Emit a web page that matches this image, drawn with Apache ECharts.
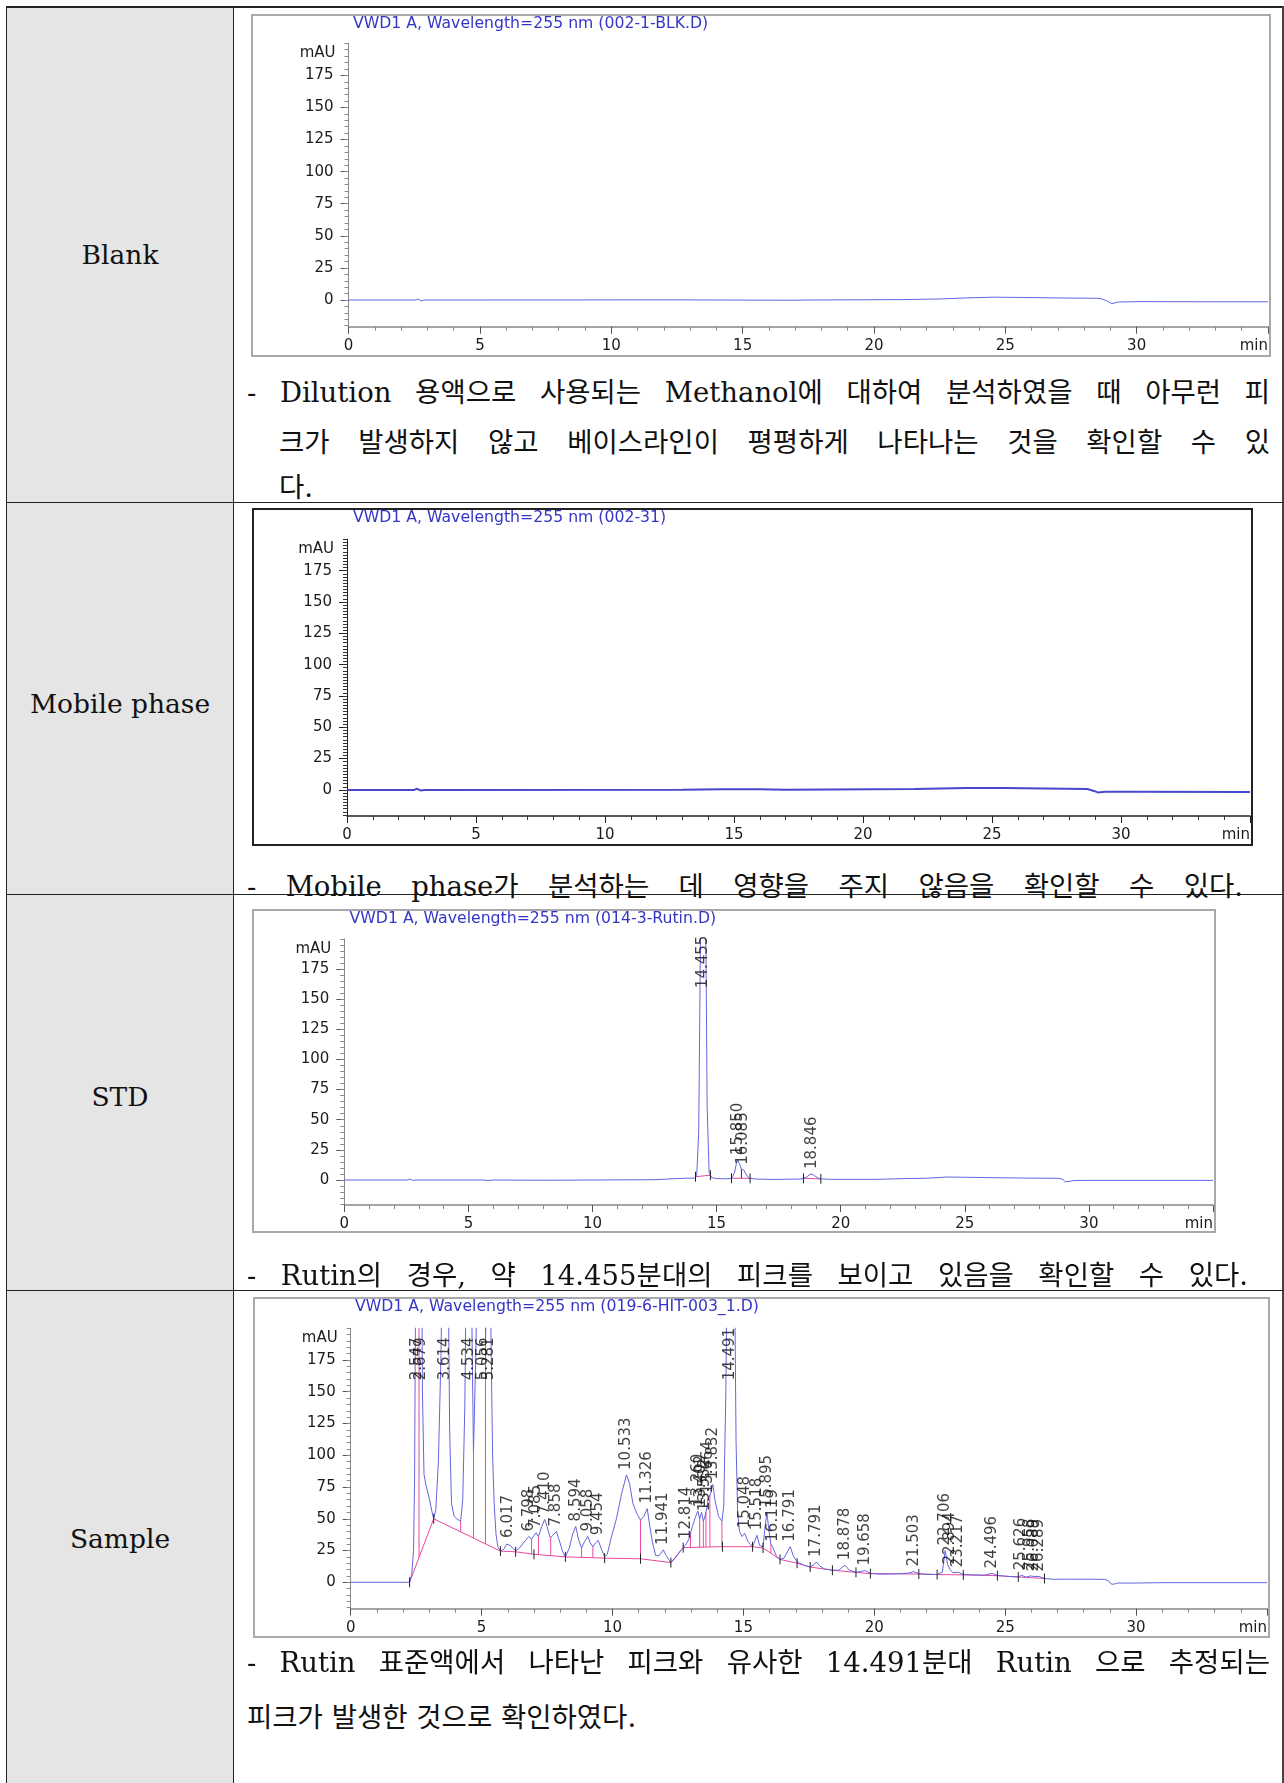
<!DOCTYPE html>
<html>
<head>
<meta charset="utf-8">
<script src="https://cdn.jsdelivr.net/npm/echarts@6/dist/echarts.min.js"></script>
<style>
  html, body { margin: 0; padding: 0; background: #fff; }
  body { width: 1284px; height: 1783px; position: relative; overflow: hidden; }
  .rule { position: absolute; background: #222; }
  .leftcol { position: absolute; left: 7px; top: 8px; width: 226px; height: 1775px; background: #e5e5e5; }
  .rowlabel { position: absolute; left: 7px; width: 226px; text-align: center; font-family: "DejaVu Serif", serif; font-size: 26.5px; line-height: 36px; color: #111; }
  .txt { position: absolute; font-family: "DejaVu Serif", "Noto Sans CJK KR", serif; font-size: 27.5px; line-height: 36px; color: #111; white-space: normal; }
  .just { text-align: justify; text-align-last: justify; }
  .chart { position: absolute; }
  .frame { position: absolute; box-sizing: border-box; pointer-events: none; }
</style>
</head>
<body>

<!-- table skeleton -->
<div class="leftcol"></div>
<div class="rule" style="left:6px;top:6px;width:1278px;height:2px;"></div>
<div class="rule" style="left:6px;top:6px;width:1px;height:1777px;"></div>
<div class="rule" style="left:233px;top:6px;width:1px;height:1777px;"></div>
<div class="rule" style="left:1282px;top:6px;width:2px;height:1777px;background:#444;"></div>
<div class="rule" style="left:6px;top:502px;width:1278px;height:1px;"></div>
<div class="rule" style="left:6px;top:894px;width:1278px;height:1px;"></div>
<div class="rule" style="left:6px;top:1290px;width:1278px;height:1px;"></div>

<div class="rowlabel" style="top:237px;">Blank</div>
<div class="rowlabel" style="top:686px;">Mobile phase</div>
<div class="rowlabel" style="top:1079px;">STD</div>
<div class="rowlabel" style="top:1521px;">Sample</div>

<!-- chromatograms -->
<div id="cBlank"  class="chart" style="left:251px;top:14px;width:1020px;height:343px;"></div>
<div class="frame" style="left:251px;top:14px;width:1020px;height:343px;border:2px solid #a9a9a9;"></div>

<div id="cMobile" class="chart" style="left:252px;top:508px;width:1001px;height:338px;"></div>
<div class="frame" style="left:252px;top:508px;width:1001px;height:338px;border:2px solid #222;"></div>

<div id="cStd"    class="chart" style="left:252px;top:909px;width:964px;height:324px;"></div>
<div class="frame" style="left:252px;top:909px;width:964px;height:324px;border:2px solid #a9a9a9;"></div>

<div id="cSample" class="chart" style="left:253px;top:1297px;width:1017px;height:341px;"></div>
<div class="frame" style="left:253px;top:1297px;width:1017px;height:341px;border:2px solid #a9a9a9;"></div>

<!-- remarks -->
<div class="txt just" style="left:247px;top:374px;width:1023px;">- Dilution 용액으로 사용되는 Methanol에 대하여 분석하였을 때 아무런 피</div>
<div class="txt just" style="left:279px;top:424px;width:991px;">크가 발생하지 않고 베이스라인이 평평하게 나타나는 것을 확인할 수 있</div>
<div class="txt" style="left:279px;top:469px;">다.</div>

<div class="txt just" style="left:247px;top:868px;width:996px;">- Mobile phase가 분석하는 데 영향을 주지 않음을 확인할 수 있다.</div>

<div class="txt just" style="left:247px;top:1257px;width:1001px;">- Rutin의 경우, 약 14.455분대의 피크를 보이고 있음을 확인할 수 있다.</div>

<div class="txt just" style="left:247px;top:1644px;width:1023px;">- Rutin 표준액에서 나타난 피크와 유사한 14.491분대 Rutin 으로 추정되는</div>
<div class="txt" style="left:247px;top:1699px;">피크가 발생한 것으로 확인하였다.</div>

<script>
// ---- chromatogram data (retention time in min, absorbance in mAU) ----
const blankTime = [0, 2.55, 2.65, 2.75, 2.9, 12.5, 17, 17.5, 21, 22.5, 23.5, 24.5, 25.5, 27, 28.6, 28.85, 29.05, 29.3, 30, 35];
const blankAbs  = [0, 0, 0.7, -0.6, 0, 0.1, -0.2, 0, 0.3, 0.8, 1.6, 2.2, 2.0, 1.6, 1.3, -0.5, -2.8, -1.6, -1.3, -1.4];

const mobileTime = [0, 2.6, 2.72, 2.85, 3.0, 13.0, 14.5, 16.0, 17.0, 22.0, 24.0, 25.5, 27.0, 28.7, 28.95, 29.1, 29.4, 30.5, 35];
const mobileAbs  = [0, 0, 0.9, -0.4, 0, 0.2, 0.6, 0.5, 0.2, 0.8, 1.5, 1.6, 1.2, 0.8, -0.8, -2.0, -1.5, -1.4, -1.6];

const stdTime = [0, 2.55, 2.65, 2.75, 2.9, 5.6, 5.8, 6.0, 8.2, 12.6, 13.2, 13.8, 14.10, 14.20, 14.28, 14.35, 14.455, 14.55, 14.62, 14.70, 14.80, 15.0, 15.4, 15.60, 15.72, 15.80, 15.850, 15.93, 16.00, 16.085, 16.18, 16.30, 16.60, 17.2, 18.40, 18.60, 18.75, 18.846, 18.95, 19.15, 19.6, 21.5, 22.6, 23.5, 24.3, 25.0, 26.0, 27.5, 28.8, 28.95, 29.05, 29.2, 29.4, 30, 35];
const stdAbs  = [0, 0, 0.8, -0.3, 0, 0, -0.4, 0, -0.2, 0.3, 1, 1.5, 1.5, 4, 40, 200, 420, 250, 60, 6, 2, 1.2, 1, 1.5, 6, 14, 16.5, 13, 9, 8.5, 5, 1.5, 0.8, 0.5, 0.8, 2, 4.5, 5, 3.5, 1, 0.6, 0.6, 1.2, 1.5, 2.5, 2.3, 2, 1.6, 1.4, 0.5, -1.5, -1.2, -0.4, -0.3, -0.3];
const stdPeaks = [14.455, 15.850, 16.085, 18.846];
const stdBaseStart = [14.15, 15.60, 18.50];
const stdBaseEnd   = [14.75, 16.35, 19.20];
const stdDrops = [16.00];

const sampleTime = [0, 2.25, 2.33, 2.40, 2.44, 2.48, 2.547, 2.61, 2.679, 2.74, 2.80, 2.88, 3.00, 3.10, 3.17, 3.25, 3.35, 3.45, 3.53, 3.614, 3.70, 3.78, 3.85, 3.95, 4.05, 4.12, 4.20, 4.28, 4.36, 4.45, 4.534, 4.62, 4.69, 4.78, 4.90, 5.056, 5.15, 5.20, 5.281, 5.36, 5.42, 5.48, 5.55, 5.62, 5.72, 5.85, 5.95, 6.017, 6.10, 6.20, 6.30, 6.45, 6.60, 6.798, 6.90, 7.085, 7.17, 7.30, 7.410, 7.50, 7.62, 7.72, 7.858, 7.95, 8.10, 8.20, 8.35, 8.48, 8.594, 8.70, 8.82, 8.93, 9.058, 9.15, 9.25, 9.35, 9.454, 9.58, 9.70, 9.80, 9.95, 10.15, 10.35, 10.533, 10.65, 10.78, 10.93, 11.07, 11.20, 11.326, 11.42, 11.52, 11.65, 11.78, 11.941, 12.05, 12.23, 12.40, 12.60, 12.814, 12.92, 13.05, 13.18, 13.260, 13.33, 13.402, 13.47, 13.532, 13.60, 13.664, 13.75, 13.832, 13.92, 14.05, 14.18, 14.25, 14.33, 14.41, 14.491, 14.58, 14.66, 14.72, 14.78, 14.85, 14.95, 15.048, 15.18, 15.35, 15.518, 15.62, 15.75, 15.82, 15.895, 15.98, 16.05, 16.119, 16.25, 16.40, 16.55, 16.68, 16.791, 16.90, 17.05, 17.30, 17.55, 17.70, 17.791, 17.90, 18.10, 18.40, 18.65, 18.878, 19.05, 19.30, 19.50, 19.658, 19.85, 20.20, 20.80, 21.30, 21.503, 21.70, 22.00, 22.40, 22.60, 22.706, 22.80, 22.894, 23.00, 23.217, 23.40, 23.80, 24.20, 24.496, 24.70, 25.10, 25.50, 25.626, 25.80, 25.958, 26.089, 26.289, 26.50, 26.80, 27.50, 28.20, 28.80, 28.95, 29.05, 29.15, 29.30, 30.00, 31.00, 35.00];
const sampleAbs  = [0, 0, 6, 25, 80, 240, 420, 230, 380, 150, 85, 76, 66, 56, 50, 57, 95, 180, 300, 520, 300, 120, 62, 52, 50, 51, 48, 65, 140, 320, 480, 220, 102, 180, 330, 600, 190, 250, 420, 190, 100, 62, 38, 28, 24.5, 26, 30, 31, 29, 26.5, 25, 27, 31, 36, 34, 39, 36, 44, 49.5, 44, 35, 37, 40, 34, 24, 20, 27, 38, 44, 34, 27, 32, 36, 31, 28, 31, 33, 26, 20, 22, 35, 50, 70, 84.5, 78, 62, 54, 49, 52, 58, 45, 32, 21, 21, 25.5, 21, 15.5, 19, 25, 30, 34, 44, 52, 56, 50, 55, 48, 52, 58, 66, 70, 77, 64, 52, 48, 60, 150, 330, 520, 400, 250, 110, 55, 40, 36, 38.5, 32, 28, 37, 29, 28, 42, 55, 40, 30, 28, 21, 18, 19, 24, 28, 21, 16, 13.5, 12, 14, 16, 13, 10.5, 9.5, 9.5, 13.5, 9.5, 7.8, 8.6, 9.2, 7, 6.4, 6.6, 7.2, 8.4, 6.8, 6.3, 6.1, 8, 25, 14, 10, 7.5, 7.8, 6.2, 5.8, 5.6, 7, 5.4, 4.6, 4.2, 5.5, 4, 5, 4.6, 4.6, 3, 2.4, 2.4, 2.4, 2.3, 1, -1.4, -1.5, -0.6, -0.6, -0.3, -0.3];
const samplePeaks = [2.547, 2.679, 3.614, 4.534, 5.056, 5.281, 6.017, 6.798, 7.085, 7.410, 7.858, 8.594, 9.058, 9.454, 10.533, 11.326, 11.941, 12.814, 13.260, 13.402, 13.532, 13.664, 13.832, 14.491, 15.048, 15.518, 15.895, 16.119, 16.791, 17.791, 18.878, 19.658, 21.503, 22.706, 22.894, 23.217, 24.496, 25.626, 25.958, 26.089, 26.289];
const sampleBaseTime = [2.25, 3.17, 5.72, 6.30, 7.00, 8.20, 9.70, 11.07, 12.23, 12.70, 14.20, 15.35, 15.75, 16.40, 17.05, 17.55, 18.40, 19.30, 19.85, 21.70, 22.40, 23.40, 24.70, 25.50, 26.50];
const sampleBaseAbs  = [0, 50, 24.5, 24, 22, 20, 19, 18.5, 15.5, 27.3, 28, 28, 27, 18, 15, 12, 9.5, 7.8, 6.8, 6.5, 6.1, 5.8, 5.2, 4.2, 3];
const sampleDrops = [2.61, 4.20, 4.69, 5.15, 6.91, 7.17, 7.64, 8.82, 9.25, 11.07, 12.98, 13.33, 13.47, 13.57, 13.72, 14.18, 15.30, 15.70, 16.05];

const yLabelValues = [0, 25, 50, 75, 100, 125, 150, 175];

// ---- helpers ----
function interp(ts, vs, t) {
  if (t <= ts[0]) return vs[0];
  for (let i = 1; i < ts.length; i++) {
    if (t <= ts[i]) {
      const f = (t - ts[i - 1]) / (ts[i] - ts[i - 1]);
      return vs[i - 1] + f * (vs[i] - vs[i - 1]);
    }
  }
  return vs[vs.length - 1];
}
function zip(ts, vs) { return ts.map((t, i) => [t, vs[i]]); }
function range(a, b, step) { const out = []; for (let v = a; v <= b + 1e-9; v += step) out.push(+v.toFixed(3)); return out; }

const AX_FONT = 'DejaVu Sans';
const Y_MIN = -20.8, Y_MAX = 200;
const LABEL_CAP = 155;          // highest anchor for retention-time labels
const PINK = '#e8489e';

function segmentSeries(data, color, width) {
  return {
    type: 'custom', silent: true, animation: false, clip: true, z: 2,
    data: data,
    encode: { x: [0, 2], y: [1, 3] },
    renderItem: function (params, api) {
      const a = api.coord([api.value(0), api.value(1)]);
      const b = api.coord([api.value(2), api.value(3)]);
      return { type: 'line', shape: { x1: a[0], y1: a[1], x2: b[0], y2: b[1] },
               style: { stroke: color, lineWidth: width } };
    }
  };
}
function eventTickSeries(data) {
  return {
    type: 'custom', silent: true, animation: false, clip: true, z: 4,
    data: data,
    encode: { x: 0, y: 1 },
    renderItem: function (params, api) {
      const p = api.coord([api.value(0), api.value(1)]);
      return { type: 'line', shape: { x1: p[0], y1: p[1] - 5, x2: p[0], y2: p[1] + 5 },
               style: { stroke: '#222', lineWidth: 1 } };
    }
  };
}
function peakLabelSeries(ts, vs, peaks) {
  return {
    type: 'scatter', symbolSize: 0, silent: true, animation: false, clip: false, z: 6,
    data: peaks.map(t => ({ value: [t, Math.min(interp(ts, vs, t), LABEL_CAP)], name: t.toFixed(3) })),
    label: {
      show: true, formatter: p => p.name, rotate: 90, position: 'top', distance: 5,
      align: 'left', verticalAlign: 'middle',
      fontFamily: AX_FONT, fontSize: 15, color: '#111'
    }
  };
}

function baseOption(cfg) {
  const labelStyle = { fontFamily: AX_FONT, fontSize: 15, color: '#1c1c1c' };
  return {
    animation: false,
    title: {
      text: cfg.title, left: cfg.titleLeft, top: 2, padding: 0,
      textStyle: { fontFamily: AX_FONT, fontSize: 15.7, fontWeight: 'normal', color: '#3535c6' }
    },
    grid: cfg.grid,
    xAxis: {
      type: 'value', min: 0, max: 35, interval: 5,
      axisLine: { show: true, onZero: false, lineStyle: { color: cfg.axisColor, width: 1.5 } },
      axisTick: { show: true, length: 7, lineStyle: { color: cfg.tickColor } },
      minorTick: { show: true, splitNumber: 5, length: 4, lineStyle: { color: cfg.minorColor } },
      splitLine: { show: false },
      axisLabel: Object.assign({ margin: 12, alignMaxLabel: 'right',
        formatter: v => (v === 35 ? 'min' : String(v)) }, labelStyle)
    },
    yAxis: [
      {
        type: 'value', position: 'left', min: Y_MIN, max: Y_MAX,
        axisLine: { show: true, onZero: false, lineStyle: { color: cfg.axisColor, width: 1 } },
        axisTick: { show: true, customValues: yLabelValues, length: 8, lineStyle: { color: cfg.tickColor } },
        axisLabel: Object.assign({ customValues: yLabelValues, margin: 15 }, labelStyle),
        splitLine: { show: false },
        name: 'mAU', nameLocation: 'end', nameGap: -10,
        nameTextStyle: Object.assign({ align: 'right', verticalAlign: 'middle', padding: [0, 13, 0, 0] }, labelStyle)
      },
      {
        type: 'value', position: 'left', min: Y_MIN, max: Y_MAX,
        axisLine: { show: false },
        axisTick: { show: true, customValues: range(-20, 200, cfg.minorStep), length: 4, lineStyle: { color: cfg.minorColor } },
        axisLabel: { show: false },
        splitLine: { show: false }
      }
    ],
    series: []
  };
}

function traceSeries(ts, vs, color, width) {
  return {
    type: 'line', data: zip(ts, vs), showSymbol: false, symbol: 'none', clip: true,
    animation: false, silent: true, z: 3,
    lineStyle: { color: color, width: width }, itemStyle: { color: color }
  };
}

// ---- Blank ----
(function () {
  const chart = echarts.init(document.getElementById('cBlank'));
  const opt = baseOption({
    title: 'VWD1 A, Wavelength=255 nm (002-1-BLK.D)', titleLeft: 102,
    grid: { left: 97.6, right: 2.6, top: 29.3, bottom: 30.3 },
    axisColor: '#888', tickColor: '#555', minorColor: '#888', minorStep: 5
  });
  opt.series.push(traceSeries(blankTime, blankAbs, '#6464e0', 1));
  chart.setOption(opt);
})();

// ---- Mobile phase ----
(function () {
  const chart = echarts.init(document.getElementById('cMobile'));
  const opt = baseOption({
    title: 'VWD1 A, Wavelength=255 nm (002-31)', titleLeft: 101,
    grid: { left: 95, right: 1, top: 31.3, bottom: 30 },
    axisColor: '#222', tickColor: '#222', minorColor: '#333', minorStep: 2.5
  });
  opt.series.push(traceSeries(mobileTime, mobileAbs, '#4848cc', 2));
  chart.setOption(opt);
})();

// ---- STD (Rutin) ----
(function () {
  const chart = echarts.init(document.getElementById('cStd'));
  const opt = baseOption({
    title: 'VWD1 A, Wavelength=255 nm (014-3-Rutin.D)', titleLeft: 97.6,
    grid: { left: 92.3, right: 0, top: 29.9, bottom: 27.9 },
    axisColor: '#888', tickColor: '#555', minorColor: '#888', minorStep: 5
  });
  const segs = stdBaseStart.map((t0, i) => {
    const t1 = stdBaseEnd[i];
    return [t0, interp(stdTime, stdAbs, t0), t1, interp(stdTime, stdAbs, t1)];
  });
  const drops = stdDrops.map(t => {
    const i = stdBaseStart.findIndex((t0, k) => t >= t0 && t <= stdBaseEnd[k]);
    const s = segs[i];
    const base = s[1] + (t - s[0]) / (s[2] - s[0]) * (s[3] - s[1]);
    return [t, base, t, interp(stdTime, stdAbs, t)];
  });
  const ticks = [];
  segs.forEach(s => { ticks.push([s[0], s[1]]); ticks.push([s[2], s[3]]); });
  opt.series.push(traceSeries(stdTime, stdAbs, '#6464e0', 1));
  opt.series.push(segmentSeries(segs, PINK, 1));
  opt.series.push(segmentSeries(drops, '#333', 1));
  opt.series.push(eventTickSeries(ticks));
  opt.series.push(peakLabelSeries(stdTime, stdAbs, stdPeaks));
  chart.setOption(opt);
})();

// ---- Sample ----
(function () {
  const chart = echarts.init(document.getElementById('cSample'));
  const opt = baseOption({
    title: 'VWD1 A, Wavelength=255 nm (019-6-HIT-003_1.D)', titleLeft: 102,
    grid: { left: 97.7, right: 2.3, top: 31.2, bottom: 29.3 },
    axisColor: '#888', tickColor: '#555', minorColor: '#888', minorStep: 5
  });
  const drops = sampleDrops.map(t => [t, interp(sampleBaseTime, sampleBaseAbs, t), t, interp(sampleTime, sampleAbs, t)]);
  const ticks = sampleBaseTime.map((t, i) => [t, sampleBaseAbs[i]]);
  opt.series.push(traceSeries(sampleTime, sampleAbs, '#6464e0', 1));
  opt.series.push({
    type: 'line', data: zip(sampleBaseTime, sampleBaseAbs), showSymbol: false, symbol: 'none',
    clip: true, animation: false, silent: true, z: 2,
    lineStyle: { color: PINK, width: 1 }, itemStyle: { color: PINK }
  });
  opt.series.push(segmentSeries(drops, PINK, 1));
  opt.series.push(eventTickSeries(ticks));
  opt.series.push(peakLabelSeries(sampleTime, sampleAbs, samplePeaks));
  chart.setOption(opt);
})();
</script>
</body>
</html>
